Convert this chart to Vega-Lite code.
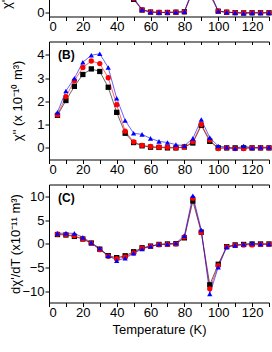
{
  "$schema": "https://vega.github.io/schema/vega-lite/v6.json",
  "padding": {"top": -102.5, "left": 0, "right": 0, "bottom": 0},
  "background": "white",
  "spacing": 25,
  "bounds": "flush",
  "datasets": {
    "A": [
      {"T":5,"s":"1","v":3.0},{"T":5,"s":"2","v":3.1},{"T":5,"s":"3","v":3.2},
      {"T":10,"s":"1","v":4.0},{"T":10,"s":"2","v":4.1},{"T":10,"s":"3","v":4.2},
      {"T":15,"s":"1","v":4.8},{"T":15,"s":"2","v":5.0},{"T":15,"s":"3","v":5.1},
      {"T":20,"s":"1","v":5.4},{"T":20,"s":"2","v":5.6},{"T":20,"s":"3","v":5.8},
      {"T":25,"s":"1","v":5.6},{"T":25,"s":"2","v":5.9},{"T":25,"s":"3","v":6.1},
      {"T":30,"s":"1","v":5.4},{"T":30,"s":"2","v":5.7},{"T":30,"s":"3","v":5.9},
      {"T":35,"s":"1","v":4.6},{"T":35,"s":"2","v":4.8},{"T":35,"s":"3","v":5.0},
      {"T":40,"s":"1","v":3.3},{"T":40,"s":"2","v":3.5},{"T":40,"s":"3","v":3.6},
      {"T":45,"s":"1","v":2.0},{"T":45,"s":"2","v":2.1},{"T":45,"s":"3","v":2.2},
      {"T":50,"s":"1","v":0.95},{"T":50,"s":"2","v":1.0},{"T":50,"s":"3","v":1.05},
      {"T":55,"s":"1","v":0.2},{"T":55,"s":"2","v":0.22},{"T":55,"s":"3","v":0.24},
      {"T":60,"s":"1","v":0.06},{"T":60,"s":"2","v":0.06},{"T":60,"s":"3","v":0.07},
      {"T":65,"s":"1","v":0.03},{"T":65,"s":"2","v":0.03},{"T":65,"s":"3","v":0.04},
      {"T":70,"s":"1","v":0.03},{"T":70,"s":"2","v":0.03},{"T":70,"s":"3","v":0.04},
      {"T":75,"s":"1","v":0.05},{"T":75,"s":"2","v":0.05},{"T":75,"s":"3","v":0.06},
      {"T":80,"s":"1","v":0.08},{"T":80,"s":"2","v":0.08},{"T":80,"s":"3","v":0.09},
      {"T":85,"s":"1","v":1.5},{"T":85,"s":"2","v":1.6},{"T":85,"s":"3","v":1.7},
      {"T":90,"s":"1","v":2.6},{"T":90,"s":"2","v":2.8},{"T":90,"s":"3","v":3.0},
      {"T":95,"s":"1","v":1.3},{"T":95,"s":"2","v":1.4},{"T":95,"s":"3","v":1.5},
      {"T":100,"s":"1","v":0.12},{"T":100,"s":"2","v":0.12},{"T":100,"s":"3","v":0.13},
      {"T":105,"s":"1","v":0.05},{"T":105,"s":"2","v":0.05},{"T":105,"s":"3","v":0.05},
      {"T":110,"s":"1","v":0.02},{"T":110,"s":"2","v":0.02},{"T":110,"s":"3","v":0.02},
      {"T":115,"s":"1","v":0.0},{"T":115,"s":"2","v":0.0},{"T":115,"s":"3","v":-0.02},
      {"T":120,"s":"1","v":0.01},{"T":120,"s":"2","v":0.01},{"T":120,"s":"3","v":0.01},
      {"T":125,"s":"1","v":0.01},{"T":125,"s":"2","v":0.01},{"T":125,"s":"3","v":0.01},
      {"T":130,"s":"1","v":0.01},{"T":130,"s":"2","v":0.01},{"T":130,"s":"3","v":0.01}
    ],
    "B": [
      {"T":5,"s":"1","v":1.40},{"T":5,"s":"2","v":1.42},{"T":5,"s":"3","v":1.53},
      {"T":10,"s":"1","v":2.04},{"T":10,"s":"2","v":2.21},{"T":10,"s":"3","v":2.45},
      {"T":15,"s":"1","v":2.65},{"T":15,"s":"2","v":2.89},{"T":15,"s":"3","v":3.00},
      {"T":20,"s":"1","v":3.16},{"T":20,"s":"2","v":3.46},{"T":20,"s":"3","v":3.69},
      {"T":25,"s":"1","v":3.40},{"T":25,"s":"2","v":3.74},{"T":25,"s":"3","v":3.99},
      {"T":30,"s":"1","v":3.29},{"T":30,"s":"2","v":3.63},{"T":30,"s":"3","v":4.05},
      {"T":35,"s":"1","v":2.61},{"T":35,"s":"2","v":3.02},{"T":35,"s":"3","v":3.46},
      {"T":40,"s":"1","v":1.53},{"T":40,"s":"2","v":1.86},{"T":40,"s":"3","v":2.14},
      {"T":45,"s":"1","v":0.63},{"T":45,"s":"2","v":0.72},{"T":45,"s":"3","v":1.18},
      {"T":50,"s":"1","v":0.23},{"T":50,"s":"2","v":0.26},{"T":50,"s":"3","v":0.63},
      {"T":55,"s":"1","v":0.09},{"T":55,"s":"2","v":0.11},{"T":55,"s":"3","v":0.58},
      {"T":60,"s":"1","v":0.03},{"T":60,"s":"2","v":0.06},{"T":60,"s":"3","v":0.41},
      {"T":65,"s":"1","v":0.02},{"T":65,"s":"2","v":0.03},{"T":65,"s":"3","v":0.28},
      {"T":70,"s":"1","v":0.0},{"T":70,"s":"2","v":0.03},{"T":70,"s":"3","v":0.23},
      {"T":75,"s":"1","v":0.0},{"T":75,"s":"2","v":0.0},{"T":75,"s":"3","v":0.14},
      {"T":80,"s":"1","v":0.04},{"T":80,"s":"2","v":0.04},{"T":80,"s":"3","v":0.09},
      {"T":85,"s":"1","v":0.21},{"T":85,"s":"2","v":0.27},{"T":85,"s":"3","v":0.41},
      {"T":90,"s":"1","v":0.97},{"T":90,"s":"2","v":1.01},{"T":90,"s":"3","v":1.22},
      {"T":95,"s":"1","v":0.28},{"T":95,"s":"2","v":0.34},{"T":95,"s":"3","v":0.44},
      {"T":100,"s":"1","v":0.0},{"T":100,"s":"2","v":-0.03},{"T":100,"s":"3","v":0.08},
      {"T":105,"s":"1","v":0.0},{"T":105,"s":"2","v":0.0},{"T":105,"s":"3","v":0.03},
      {"T":110,"s":"1","v":0.0},{"T":110,"s":"2","v":-0.03},{"T":110,"s":"3","v":-0.03},
      {"T":115,"s":"1","v":0.0},{"T":115,"s":"2","v":-0.03},{"T":115,"s":"3","v":0.08},
      {"T":120,"s":"1","v":0.0},{"T":120,"s":"2","v":0.0},{"T":120,"s":"3","v":0.0},
      {"T":125,"s":"1","v":0.0},{"T":125,"s":"2","v":0.0},{"T":125,"s":"3","v":0.03},
      {"T":130,"s":"1","v":0.0},{"T":130,"s":"2","v":0.0},{"T":130,"s":"3","v":0.03}
    ],
    "C": [
      {"T":5,"s":"1","v":2.0},{"T":5,"s":"2","v":2.1},{"T":5,"s":"3","v":2.24},
      {"T":10,"s":"1","v":1.9},{"T":10,"s":"2","v":2.0},{"T":10,"s":"3","v":2.3},
      {"T":15,"s":"1","v":1.6},{"T":15,"s":"2","v":1.75},{"T":15,"s":"3","v":2.24},
      {"T":20,"s":"1","v":1.05},{"T":20,"s":"2","v":1.05},{"T":20,"s":"3","v":1.4},
      {"T":25,"s":"1","v":0.2},{"T":25,"s":"2","v":0.14},{"T":25,"s":"3","v":0.28},
      {"T":30,"s":"1","v":-1.1},{"T":30,"s":"2","v":-1.2},{"T":30,"s":"3","v":-0.92},
      {"T":35,"s":"1","v":-2.47},{"T":35,"s":"2","v":-2.6},{"T":35,"s":"3","v":-2.47},
      {"T":40,"s":"1","v":-2.9},{"T":40,"s":"2","v":-3.1},{"T":40,"s":"3","v":-3.52},
      {"T":45,"s":"1","v":-2.5},{"T":45,"s":"2","v":-2.75},{"T":45,"s":"3","v":-3.03},
      {"T":50,"s":"1","v":-1.65},{"T":50,"s":"2","v":-1.9},{"T":50,"s":"3","v":-1.97},
      {"T":55,"s":"1","v":-0.8},{"T":55,"s":"2","v":-0.9},{"T":55,"s":"3","v":-1.06},
      {"T":60,"s":"1","v":-0.45},{"T":60,"s":"2","v":-0.5},{"T":60,"s":"3","v":-0.5},
      {"T":65,"s":"1","v":-0.1},{"T":65,"s":"2","v":-0.14},{"T":65,"s":"3","v":-0.07},
      {"T":70,"s":"1","v":0.0},{"T":70,"s":"2","v":-0.1},{"T":70,"s":"3","v":0.0},
      {"T":75,"s":"1","v":0.07},{"T":75,"s":"2","v":0.0},{"T":75,"s":"3","v":0.2},
      {"T":80,"s":"1","v":1.3},{"T":80,"s":"2","v":1.5},{"T":80,"s":"3","v":1.75},
      {"T":85,"s":"1","v":9.1},{"T":85,"s":"2","v":9.7},{"T":85,"s":"3","v":10.2},
      {"T":90,"s":"1","v":2.5},{"T":90,"s":"2","v":2.5},{"T":90,"s":"3","v":2.95},
      {"T":95,"s":"1","v":-8.65},{"T":95,"s":"2","v":-9.5},{"T":95,"s":"3","v":-10.6},
      {"T":100,"s":"1","v":-4.3},{"T":100,"s":"2","v":-4.6},{"T":100,"s":"3","v":-4.93},
      {"T":105,"s":"1","v":-0.56},{"T":105,"s":"2","v":-0.6},{"T":105,"s":"3","v":-0.63},
      {"T":110,"s":"1","v":-0.2},{"T":110,"s":"2","v":-0.3},{"T":110,"s":"3","v":-0.3},
      {"T":115,"s":"1","v":-0.1},{"T":115,"s":"2","v":-0.2},{"T":115,"s":"3","v":-0.07},
      {"T":120,"s":"1","v":0.0},{"T":120,"s":"2","v":-0.2},{"T":120,"s":"3","v":0.14},
      {"T":125,"s":"1","v":0.0},{"T":125,"s":"2","v":-0.1},{"T":125,"s":"3","v":0.0},
      {"T":130,"s":"1","v":0.0},{"T":130,"s":"2","v":-0.1},{"T":130,"s":"3","v":0.0}
    ]
  },
  "vconcat": [
    {
      "width": 220, "height": 118,
      "data": {"name": "A"},
      "encoding": {
        "x": {"field": "T", "type": "quantitative", "scale": {"domain": [0, 130], "nice": false}, "axis": {"orient": "bottom", "values": [0,10,20,30,40,50,60,70,80,90,100,110,120,130], "labelExpr": "datum.value % 20 === 0 ? datum.label : ''", "title": null, "labelPadding": 0, "labelOverlap": false}},
        "y": {"field": "v", "type": "quantitative", "scale": {"domain": [-0.25, 8], "nice": false, "zero": false}, "axis": {"values": [0,2,4,6], "labelOverlap": false, "title": "χ' (x 10⁻¹⁰ m³)", "titleY": 110, "titleAlign": "left", "titlePadding": 23, "labelPadding": 1}},
        "color": {"field": "s", "type": "nominal", "scale": {"domain": ["1","2","3"], "range": ["#000000","#ff0000","#0000ff"]}, "legend": null}
      },
      "layer": [
        {"mark": {"type": "line", "strokeWidth": 1, "opacity": 0.6}},
        {"mark": {"type": "point", "filled": true, "opacity": 1, "size": 28},
         "encoding": {
           "x": {"field": "T", "type": "quantitative", "axis": {"orient": "top", "values": [0,10,20,30,40,50,60,70,80,90,100,110,120,130], "labels": false, "tickSize": -3, "title": null}},
           "shape": {"field": "s", "type": "nominal", "scale": {"domain": ["1","2","3"], "range": ["square","circle","triangle-up"]}, "legend": null}
         }}
      ],
      "resolve": {"axis": {"x": "independent"}}
    },
    {
      "width": 220, "height": 118,
      "data": {"name": "B"},
      "title": {"text": "(B)", "anchor": "start", "frame": "group", "offset": 0, "baseline": "top", "dx": 9, "dy": 21, "fontSize": 12, "fontWeight": "bold"},
      "encoding": {
        "x": {"field": "T", "type": "quantitative", "scale": {"domain": [0, 130], "nice": false}, "axis": {"orient": "bottom", "values": [0,10,20,30,40,50,60,70,80,90,100,110,120,130], "labelExpr": "datum.value % 20 === 0 ? datum.label : ''", "title": null, "labelPadding": 0, "labelOverlap": false}},
        "y": {"field": "v", "type": "quantitative", "scale": {"domain": [-0.5, 4.58], "nice": false, "zero": false}, "axis": {"values": [0,1,2,3,4], "labelOverlap": false, "title": "χ'' (x 10⁻¹⁰ m³)", "titlePadding": 12, "labelPadding": 1}},
        "color": {"field": "s", "type": "nominal", "scale": {"domain": ["1","2","3"], "range": ["#000000","#ff0000","#0000ff"]}, "legend": null}
      },
      "layer": [
        {"mark": {"type": "line", "strokeWidth": 1, "opacity": 0.6}},
        {"mark": {"type": "point", "filled": true, "opacity": 1, "size": 28},
         "encoding": {
           "x": {"field": "T", "type": "quantitative", "axis": {"orient": "top", "values": [0,10,20,30,40,50,60,70,80,90,100,110,120,130], "labels": false, "tickSize": -3, "title": null}},
           "shape": {"field": "s", "type": "nominal", "scale": {"domain": ["1","2","3"], "range": ["square","circle","triangle-up"]}, "legend": null}
         }}
      ],
      "resolve": {"axis": {"x": "independent"}}
    },
    {
      "width": 220, "height": 118,
      "data": {"name": "C"},
      "title": {"text": "(C)", "anchor": "start", "frame": "group", "offset": 0, "baseline": "top", "dx": 9, "dy": 21, "fontSize": 12, "fontWeight": "bold"},
      "encoding": {
        "x": {"field": "T", "type": "quantitative", "scale": {"domain": [0, 130], "nice": false}, "axis": {"orient": "bottom", "values": [0,10,20,30,40,50,60,70,80,90,100,110,120,130], "labelExpr": "datum.value % 20 === 0 ? datum.label : ''", "title": "Temperature (K)", "labelPadding": 0, "labelOverlap": false}},
        "y": {"field": "v", "type": "quantitative", "scale": {"domain": [-12.4, 12.6], "nice": false, "zero": false}, "axis": {"values": [-10,-5,0,5,10], "labelOverlap": false, "title": "dχ'/dT (x10⁻¹¹ m³)", "titlePadding": -1, "labelPadding": 1}},
        "color": {"field": "s", "type": "nominal", "scale": {"domain": ["1","2","3"], "range": ["#000000","#ff0000","#0000ff"]}, "legend": null}
      },
      "layer": [
        {"mark": {"type": "line", "strokeWidth": 1, "opacity": 0.6}},
        {"mark": {"type": "point", "filled": true, "opacity": 1, "size": 28},
         "encoding": {
           "x": {"field": "T", "type": "quantitative", "axis": {"orient": "top", "values": [0,10,20,30,40,50,60,70,80,90,100,110,120,130], "labels": false, "tickSize": -3, "title": null}},
           "shape": {"field": "s", "type": "nominal", "scale": {"domain": ["1","2","3"], "range": ["square","circle","triangle-up"]}, "legend": null}
         }}
      ],
      "resolve": {"axis": {"x": "independent"}}
    }
  ],
  "config": {
    "font": "Liberation Sans",
    "view": {"stroke": null},
    "axis": {"grid": false, "domainColor": "#000000", "tickColor": "#000000", "labelColor": "#000000", "titleColor": "#000000", "labelFontSize": 13, "titleFontSize": 13, "titleFontWeight": "normal", "tickSize": 4, "labelFont": "Liberation Sans", "titleFont": "Liberation Sans"},
    "title": {"font": "Liberation Sans", "color": "#000000"}
  }
}
